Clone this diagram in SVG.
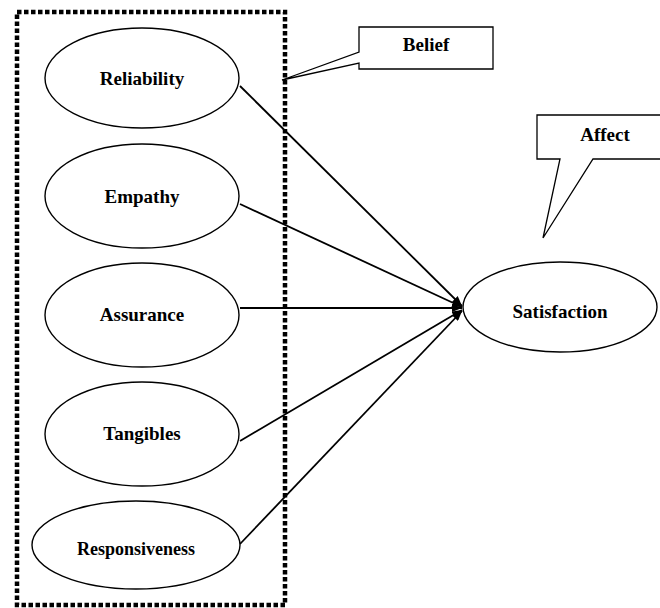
<svg xmlns="http://www.w3.org/2000/svg" width="660" height="608" viewBox="0 0 660 608">
<defs>
<style>
.node ellipse{fill:#fff;stroke:#000;stroke-width:1.4}
.lbl{font-family:"Liberation Serif","Times New Roman",serif;font-weight:bold;font-size:19px;fill:#000;text-anchor:middle}
.conn line{stroke:#000;stroke-width:1.8;marker-end:url(#ah)}
.callout{fill:#fff;stroke:#000;stroke-width:1.3;stroke-linejoin:miter}
</style>
<marker id="ah" viewBox="0 0 10 8" refX="10" refY="4" markerWidth="10" markerHeight="8" markerUnits="userSpaceOnUse" orient="auto">
<path d="M0,0 L10,4 L0,8 Z" fill="#000"/>
</marker>
</defs>
<rect width="660" height="608" fill="#fff"/>
<rect id="group-box" x="17" y="12" width="268" height="593" fill="none" stroke="#000" stroke-width="4.5" stroke-dasharray="4.5 2.5"/>
<g id="connectors" class="conn">
<line x1="240" y1="86" x2="462" y2="306"/>
<line x1="240" y1="204" x2="462" y2="307"/>
<line x1="240" y1="308" x2="462" y2="308"/>
<line x1="240" y1="441" x2="462" y2="310"/>
<line x1="240" y1="544" x2="462" y2="311"/>
</g>
<g id="node-reliability" class="node">
<ellipse cx="142" cy="78" rx="97" ry="50"/>
<text class="lbl" x="142" y="85">Reliability</text>
</g>
<g id="node-empathy" class="node">
<ellipse cx="142" cy="196" rx="97" ry="52"/>
<text class="lbl" x="142" y="203">Empathy</text>
</g>
<g id="node-assurance" class="node">
<ellipse cx="142" cy="315" rx="97" ry="52"/>
<text class="lbl" x="142" y="321">Assurance</text>
</g>
<g id="node-tangibles" class="node">
<ellipse cx="142" cy="434" rx="97" ry="52"/>
<text class="lbl" x="142" y="440">Tangibles</text>
</g>
<g id="node-responsiveness" class="node">
<ellipse cx="136" cy="545" rx="104" ry="44"/>
<text class="lbl" x="136" y="555" style="font-size:18px">Responsiveness</text>
</g>
<g id="node-satisfaction" class="node">
<ellipse cx="560" cy="307" rx="97" ry="45"/>
<text class="lbl" x="560" y="318">Satisfaction</text>
</g>
<g id="callout-belief">
<path class="callout" d="M359,27 L493,27 L493,69 L359,69 L359,63 L282,80 L359,52 Z"/>
<text class="lbl" x="426" y="51">Belief</text>
</g>
<g id="callout-affect">
<path class="callout" d="M662,115 L537,115 L537,159 L560,159 L543,238 L593,159 L662,159"/>
<text class="lbl" x="605" y="141">Affect</text>
</g>
</svg>
